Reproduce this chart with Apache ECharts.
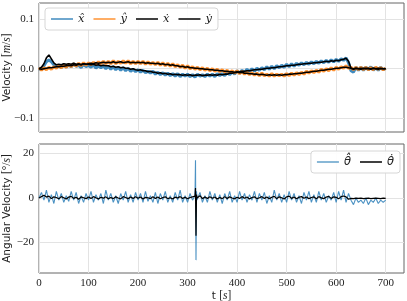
<!DOCTYPE html>
<html><head><meta charset="utf-8">
<script src="https://cdn.jsdelivr.net/npm/echarts@6/dist/echarts.min.js"></script>
<style>html,body{margin:0;padding:0;background:#fff}#c{width:407px;height:301px}</style>
</head><body><div id="c"></div><script>
// sample times [s]
const timeGrid = [
0,5,10,15,20,25,30,35,40,45,
50,55,60,65,70,75,80,85,90,95,
100,105,110,115,120,125,130,135,140,145,
150,155,160,165,170,175,180,185,190,195,
200,205,210,215,220,225,230,235,240,245,
250,255,260,265,270,275,280,285,290,295,
300,305,310,315,320,325,330,335,340,345,
350,355,360,365,370,375,380,385,390,395,
400,405,410,415,420,425,430,435,440,445,
450,455,460,465,470,475,480,485,490,495,
500,505,510,515,520,525,530,535,540,545,
550,555,560,565,570,575,580,585,590,595,
600,605,610,615,620,625,630,635,640,645,
650,655,660,665,670,675,680,685,690,695,
700];
// velocities in mm/s (converted to m/s for plotting)
const xHat = [
0,-2,6,14,18,14,8,3,7,2,
9,3,8,4,10,5,7,2,9,4,
7,3,8,1,6,2,6,0,5,-1,
4,-2,3,-3,2,-4,1,-5,-1,-6,
-2,-7,-3,-8,-5,-9,-5,-11,-7,-12,
-8,-13,-9,-14,-10,-15,-10,-16,-11,-15,
-11,-16,-12,-17,-11,-15,-12,-16,-11,-15,
-11,-16,-10,-14,-10,-14,-8,-12,-6,-11,
-4,-9,-3,-8,-1,-6,0,-5,1,-3,
2,-2,4,-1,5,0,6,2,7,3,
9,4,10,5,11,7,12,8,13,9,
14,10,15,11,16,12,17,13,18,14,
19,15,20,17,22,12,-4,-7,3,-3,
3,-3,3,-2,4,-3,2,-3,3,-2,
1];
const yHat = [
2,-3,2,-2,3,-1,4,1,6,2,
7,3,9,4,10,5,11,6,12,7,
12,8,13,9,14,10,15,10,15,10,
16,10,15,11,16,11,16,10,15,10,
15,10,15,9,14,9,13,8,13,7,
12,6,11,5,10,4,8,3,7,1,
6,0,4,-1,3,-2,2,-3,1,-4,
0,-5,-1,-6,-2,-7,-3,-8,-4,-9,
-4,-10,-5,-11,-7,-12,-8,-13,-9,-14,
-9,-14,-11,-15,-10,-15,-11,-14,-11,-15,
-10,-14,-9,-13,-8,-12,-7,-11,-5,-9,
-4,-8,-3,-7,-1,-5,0,-4,2,-3,
3,-1,4,1,6,1,3,-2,3,-2,
3,-2,3,-2,2,-2,3,-1,2,-2,
1];
const xDot = [
0,3,10,22,28,20,12,8,9,8,
10,9,10,9,11,9,10,8,10,9,
9,8,9,7,8,6,7,6,6,4,
5,3,4,2,3,1,1,-1,0,-2,
-3,-2,-4,-4,-6,-5,-7,-7,-9,-8,
-10,-9,-11,-10,-12,-11,-12,-12,-13,-12,
-13,-12,-14,-13,-13,-12,-14,-13,-13,-12,
-13,-12,-13,-11,-12,-11,-11,-9,-9,-8,
-7,-6,-5,-5,-4,-4,-3,-2,-2,-1,
-1,0,1,1,2,2,3,4,4,5,
6,6,7,7,8,9,9,10,10,11,
11,12,12,13,13,14,15,14,16,15,
17,16,18,19,21,15,1,-1,1,0,
-1,1,0,1,-1,1,0,-1,1,0,
0];
const yDot = [
0,-1,0,1,2,2,3,4,4,5,
5,6,7,6,8,7,9,8,10,9,
10,11,10,12,11,12,13,12,13,12,
14,12,13,14,12,13,14,12,13,12,
13,12,13,11,12,11,11,10,11,9,
10,8,9,7,8,6,6,4,5,3,
4,2,2,1,1,0,0,-1,-1,-2,
-2,-3,-3,-4,-4,-5,-5,-6,-6,-7,
-6,-8,-7,-9,-9,-10,-10,-11,-11,-12,
-11,-12,-13,-12,-13,-12,-13,-12,-13,-12,
-12,-11,-11,-10,-10,-9,-9,-8,-7,-7,
-6,-5,-5,-4,-3,-3,-2,-1,-1,0,
1,1,2,3,3,2,1,0,1,0,
1,0,1,0,0,1,0,1,0,0,
0];
// angular velocity [deg/s]
const thetaHat = [
0,2.5,-1,3.5,-2,1.5,-2.5,3,-1,2,
-2,1,-1.5,3,-1,2.5,-2.5,1,-2,2,
-1,3,-2,1.5,-1,2,-2.5,3.5,-1,2,
-2,1,-2.5,2,-1,3,-2,1.5,-2,2.5,
-1,2,-2,3,-1.5,1,-2,2.5,-2.5,2,
-1,3,-2,1,-2,2.5,-1,3.5,-2,1,
-2,2,-1,1,-1,2.5,-2,1,-2,3,
-1,2,-2,1.5,-2.5,2,-1,3,-2,1,
-2,3,-1,2,-2,1.5,-1,3,-2,2,
-1,2.5,-2.5,1,-2,3.5,-1,2,-2,1.5,
-2,3,-1,2,-2,1,-2.5,2.5,-1,3,
-2,1.5,-2,3,-1,2,-2,1,-1,2.5,
-2,3,-1,3.5,-2,2,-1,-3,0,-2,
-1,-2.5,0,-3,-1,-2,0,-2.5,-1,-2,
-1];
const thetaDot = [
0,0.6,1.2,0.4,0.8,-0.3,0.5,0.2,-0.4,0.6,
0.1,-0.5,0.4,0.7,-0.2,0.3,-0.6,0.5,0.1,-0.3,
0.4,-0.2,0.6,0.1,-0.5,0.3,-0.1,0.5,-0.4,0.2,
-0.3,0.5,0.0,-0.4,0.6,0.2,-0.3,0.4,-0.2,0.5,
-0.1,0.4,-0.5,0.3,0.1,-0.3,0.5,-0.2,0.4,-0.4,
0.2,0.5,-0.3,0.1,-0.5,0.4,0.0,0.6,-0.2,0.3,
-0.4,0.2,0.5,0.8,-0.6,1.0,-0.3,0.4,-0.2,0.5,
-0.1,0.4,-0.5,0.2,-0.3,0.6,-0.2,0.5,0.0,-0.4,
0.3,-0.2,0.6,-0.1,0.4,-0.5,0.2,0.5,-0.3,0.1,
0.6,-0.2,0.4,-0.4,0.3,0.7,-0.3,0.5,0.1,-0.5,
0.5,0.8,-0.2,0.4,-0.4,0.3,0.6,-0.1,0.4,-0.3,
0.2,0.5,-0.4,0.6,0.0,-0.3,0.4,0.7,-0.2,0.5,
0.3,-0.4,0.6,0.9,0.5,-0.6,-0.2,-0.3,-0.1,-0.2,
-0.1,-0.3,-0.2,-0.1,-0.3,-0.2,-0.1,-0.2,-0.3,-0.1,
-0.2];
// collision spike around t = 317 s
const spikeT = [316,317,318,319];
const spikeHat = [17,-28,3,-1];
const spikeTrue = [4.5,-17,1.5,0];

const xTicks = [0,100,200,300,400,500,600,700];
const velTicks = [-0.1,0,0.1];
const angTicks = [-20,0,20];

const pairsMm = arr => timeGrid.map((t,i)=>[t, arr[i]/1000]);
const pairsAng = (arr, sp) => timeGrid.map((t,i)=>[t, arr[i]]).concat(spikeT.map((t,i)=>[t, sp[i]])).sort((a,b)=>a[0]-b[0]);

const SERIF = '"Liberation Serif","DejaVu Serif",serif';
const LEGF = '"DejaVu Serif",serif';
const LEGT = '"DejaVu Sans",sans-serif';
const SANS = '"DejaVu Sans","Noto Sans",sans-serif';
const BLUE = '#1f77b4', ORANGE = '#ff7f0e', BLACK = '#000';
const frameC = '#666';
const gridC = '#e3e3e3';
const minus = v => String(v).replace('-', '\u2212');

const names = {xh:'x\u0302', yh:'y\u0302', xd:'\u1E8B', yd:'\u1E8F', th:'\u03B8\u0302', td:'\u03B8\u0307'};

const richName = {
  s:{fontFamily:SANS,fontSize:10.5,color:'#222'},
  r:{fontFamily:SERIF,fontSize:11.5,color:'#222'},
  i:{fontFamily:SERIF,fontSize:11.5,fontStyle:'italic',color:'#222'}
};

function xAx(idx, showLabel){
  return {gridIndex:idx,type:'value',min:0,max:737,
    axisLine:{show:false},axisTick:{show:false,customValues:xTicks},
    axisLabel:{show:showLabel,customValues:xTicks,fontFamily:SERIF,fontSize:11,color:'#222',margin:5},
    splitLine:{show:true,lineStyle:{color:gridC,width:1}},
    name: showLabel ? '{s|t }{r|[}{i|s}{r|]}' : '', nameLocation:'middle', nameGap:17, nameMoveOverlap:false,
    nameTextStyle:{rich:richName}};
}
function yAx(idx, min, max, ticks, fmt, name, gap){
  return {gridIndex:idx,type:'value',min:min,max:max,
    axisLine:{show:false},
    axisTick:{show:false,customValues:ticks},
    axisLabel:{customValues:ticks,fontFamily:SERIF,fontSize:11,color:'#222',margin:5,formatter:fmt},
    splitLine:{show:true,lineStyle:{color:gridC,width:1}},
    name:name,nameLocation:'middle',nameGap:gap,nameRotate:90,nameMoveOverlap:false,
    nameTextStyle:{rich:richName}};
}
function line(name, data, color, w, xi, yi, op, z){
  return {name:name,type:'line',xAxisIndex:xi,yAxisIndex:yi,data:data,symbol:'none',showSymbol:false,
    lineStyle:{color:color,width:w,opacity:op},itemStyle:{color:color,opacity:op},z:z,animation:false};
}
const legendBase = {orient:'horizontal',itemWidth:22,itemHeight:1.5,itemGap:9,icon:'rect',
  backgroundColor:'rgba(255,255,255,0.9)',borderColor:'#d6d6d6',borderWidth:1,borderRadius:3,padding:[4,6],
  textStyle:{fontFamily:LEGF,fontStyle:'italic',fontSize:11.5,color:'#222',lineHeight:14}};
const legItem = (n, c, op) => ({name:n, icon:'rect', itemStyle:{color:c, opacity:op}});

const option = {
  animation:false,
  backgroundColor:'#fff',
  grid:[
    {left:39,width:365,top:3,height:129,show:true,borderColor:frameC,borderWidth:1,backgroundColor:'transparent',containLabel:false,outerBoundsMode:'none'},
    {left:39,width:365,top:144,height:129,show:true,borderColor:frameC,borderWidth:1,backgroundColor:'transparent',containLabel:false,outerBoundsMode:'none'}
  ],
  xAxis:[xAx(0,false), xAx(1,true)],
  yAxis:[
    yAx(0,-0.128,0.133,velTicks,v=>minus(v.toFixed(1)),'{s|Velocity }{r|[}{i|m}{r|/}{i|s}{r|]}',26),
    yAx(1,-33.8,24.3,angTicks,v=>minus(v),'{s|Angular Velocity }{r|[°/}{i|s}{r|]}',26)
  ],
  legend:[
    Object.assign({},legendBase,{left:45,top:8,data:[legItem(names.xh,BLUE,0.85),legItem(names.yh,ORANGE,0.85),legItem(names.xd,BLACK,1),legItem(names.yd,BLACK,1)]}),
    Object.assign({},legendBase,{right:7,top:151,textStyle:Object.assign({},legendBase.textStyle,{fontFamily:LEGT}),
      data:[legItem(names.th,BLUE,0.7),legItem(names.td,BLACK,1)]})
  ],
  series:[
    line(names.xh, pairsMm(xHat), BLUE, 3.0, 0,0, 0.85, 2),
    line(names.yh, pairsMm(yHat), ORANGE, 3.0, 0,0, 0.85, 3),
    line(names.xd, pairsMm(xDot), BLACK, 1.6, 0,0, 1, 4),
    line(names.yd, pairsMm(yDot), BLACK, 1.6, 0,0, 1, 5),
    line(names.th, pairsAng(thetaHat, spikeHat), BLUE, 1.1, 1,1, 0.8, 2),
    line(names.td, pairsAng(thetaDot, spikeTrue), BLACK, 1.2, 1,1, 1, 3)
  ]
};
const chart = echarts.init(document.getElementById('c'), null, {renderer:'canvas'});
chart.setOption(option);
</script></body></html>
